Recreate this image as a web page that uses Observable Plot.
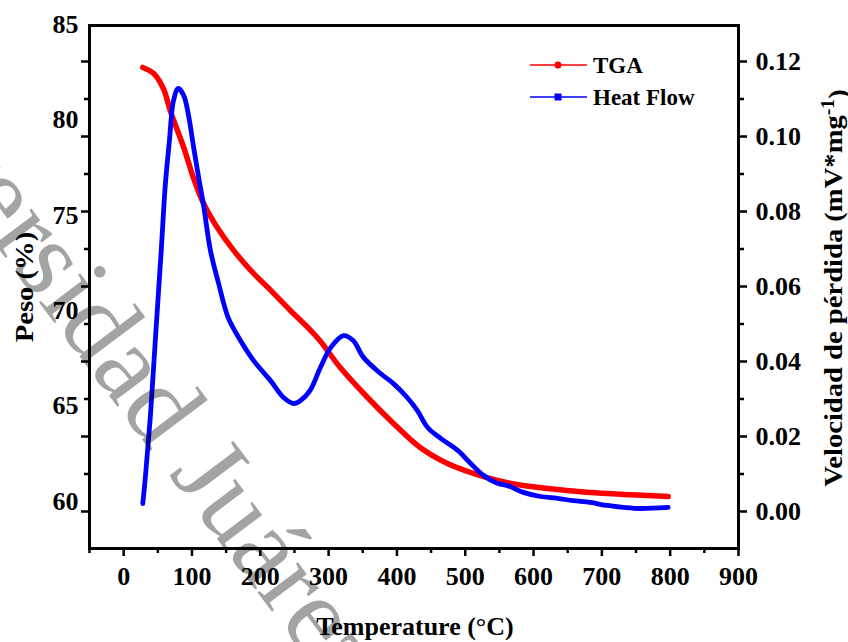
<!DOCTYPE html>
<html>
<head>
<meta charset="utf-8">
<script src="https://cdn.jsdelivr.net/npm/d3@7"></script>
<script src="https://cdn.jsdelivr.net/npm/@observablehq/plot@0.6"></script>
<style>
  html, body { margin: 0; padding: 0; background: #fff; }
  #chart { position: relative; width: 848px; height: 642px; overflow: hidden; }
  #chart svg { position: absolute; left: 0; top: 0; }
</style>
</head>
<body>
<div id="chart"></div>
<script>
// ---- Data ----
const tgaTemp   = [28, 44, 58, 69, 88, 102, 117, 137, 161, 186, 211, 244, 273, 288, 317, 357, 395, 434, 474, 512, 547, 585, 635, 683, 732, 797];
const tgaWeight = [82.75, 82.43, 81.65, 80.40, 78.55, 76.98, 75.62, 74.36, 73.16, 72.11, 71.22, 70.01, 69.00, 68.40, 67.02, 65.45, 64.09, 62.83, 61.99, 61.47, 61.10, 60.84, 60.63, 60.47, 60.37, 60.26];

const hfTemp = [28, 32, 39, 47, 55, 61, 67, 73, 80, 88, 95, 102, 110, 117, 127, 139, 153, 171, 190, 215, 234, 249, 259, 273, 288, 303, 322, 336, 351, 376, 395, 415, 430, 445, 464, 489, 508, 527, 547, 562, 585, 610, 635, 658, 683, 708, 732, 756, 797];
const hfRate = [0.0021, 0.0096, 0.0251, 0.0475, 0.0696, 0.0872, 0.0989, 0.1096, 0.1128, 0.1109, 0.1056, 0.0976, 0.0888, 0.0816, 0.0696, 0.0608, 0.0517, 0.0456, 0.0403, 0.0349, 0.0304, 0.0288, 0.0296, 0.0323, 0.0384, 0.0437, 0.0469, 0.0456, 0.0411, 0.0368, 0.0341, 0.0304, 0.0269, 0.0224, 0.0195, 0.0163, 0.0128, 0.0096, 0.0075, 0.0069, 0.0051, 0.0040, 0.0035, 0.0029, 0.0024, 0.0016, 0.0011, 0.0008, 0.0011];

const xMajorTicks = [0, 100, 200, 300, 400, 500, 600, 700, 800, 900];
const xMinorTicks = [-50, 50, 150, 250, 350, 450, 550, 650, 750, 850];
const pesoTicks   = [60, 65, 70, 75, 80, 85];
const rateMajorTicks = [0, 0.02, 0.04, 0.06, 0.08, 0.10, 0.12];
const rateMinorTicks = [0.01, 0.03, 0.05, 0.07, 0.09, 0.11];

const seriesNames = ["TGA", "Heat Flow"];
const seriesColors = ["#ff0000", "#0000ff"];

const xTitle = "Temperature (°C)";
const yLeftTitle = "Peso (%)";
const yRightTitle = "Velocidad de pérdida (mV*mg";
const watermark = "Universidad Juárez";

// ---- Tables ----
const tga = tgaTemp.map((t, i) => ({T: t, w: tgaWeight[i]}));
const hf = hfTemp.map((t, i) => ({T: t, v: hfRate[i]}));

const FONT = "'Liberation Serif', 'Times New Roman', serif";
const common = {
  width: 848, height: 642,
  marginLeft: 89, marginRight: 110, marginTop: 25, marginBottom: 94,
  style: {fontFamily: FONT, fontSize: "26px", fontWeight: "bold", background: "transparent", overflow: "visible", color: "#000"}
};
const blank = () => "";

const plot1 = Plot.plot({
  ...common,
  x: {domain: [-50, 900]},
  y: {domain: [57.537, 84.948]},
  marks: [
    Plot.axisX({ticks: xMajorTicks, tickSize: 8, tickPadding: 10, strokeWidth: 2.5, tickFormat: d => String(d), label: null}),
    Plot.axisX({ticks: xMinorTicks, tickSize: 5, strokeWidth: 2.5, tickFormat: blank, label: null}),
    Plot.axisY({ticks: pesoTicks, tickSize: 0, tickPadding: 11, tickFormat: d => String(d), label: null}),
    Plot.line(tga, {x: "T", y: "w", stroke: seriesColors[0], strokeWidth: 5.5, curve: "catmull-rom", strokeLinecap: "round"})
  ]
});

const plot2 = Plot.plot({
  ...common,
  x: {domain: [-50, 900], axis: null},
  y: {domain: [-0.009867, 0.1296]},
  marks: [
    Plot.axisY({anchor: "right", ticks: rateMajorTicks, tickSize: 8, tickPadding: 9, strokeWidth: 2.5, tickFormat: d => d.toFixed(2), label: null}),
    Plot.axisY({anchor: "right", ticks: rateMinorTicks, tickSize: 5, strokeWidth: 2.5, tickFormat: blank, label: null}),
    Plot.axisY({anchor: "left", ticks: rateMajorTicks, tickSize: 8, strokeWidth: 2.5, tickFormat: blank, label: null}),
    Plot.axisY({anchor: "left", ticks: rateMinorTicks, tickSize: 5, strokeWidth: 2.5, tickFormat: blank, label: null}),
    Plot.line(hf, {x: "T", y: "v", stroke: seriesColors[1], strokeWidth: 4.8, curve: "catmull-rom", strokeLinecap: "round"}),
    Plot.frame({stroke: "#000", strokeWidth: 3})
  ]
});

const chart = document.getElementById("chart");
chart.appendChild(plot1);
chart.appendChild(plot2);

const svg = d3.select(plot2);

// Axis titles
svg.append("text")
  .attr("x", 415).attr("y", 635)
  .attr("text-anchor", "middle")
  .style("font-family", FONT).style("font-size", "26px").style("font-weight", "bold")
  .text(xTitle);

svg.append("text")
  .attr("transform", "translate(33,287) rotate(-90) scale(1.1,1)")
  .attr("text-anchor", "middle")
  .style("font-family", FONT).style("font-size", "26px").style("font-weight", "bold")
  .text(yLeftTitle);

const rt = svg.append("text")
  .attr("transform", "translate(842,288) rotate(-90) scale(1.1,1)")
  .attr("text-anchor", "middle")
  .style("font-family", FONT).style("font-size", "26px").style("font-weight", "bold");
rt.append("tspan").text(yRightTitle);
rt.append("tspan").attr("dy", "-0.45em").style("font-size", "18px").text("-1");
rt.append("tspan").attr("dy", "0.45em").text(")");

// Legend
const leg = svg.append("g").attr("text-anchor", "start")
  .style("font-family", FONT).style("font-size", "23px").style("font-weight", "bold");
seriesNames.forEach((name, i) => {
  const y = 65 + i * 32;
  leg.append("line").attr("x1", 530).attr("x2", 587).attr("y1", y).attr("y2", y)
    .attr("stroke", seriesColors[i]).attr("stroke-width", 1.5);
  if (i === 0) {
    leg.append("circle").attr("cx", 558).attr("cy", y).attr("r", 3.5).attr("fill", seriesColors[i]);
  } else {
    leg.append("rect").attr("x", 554.5).attr("y", y - 3.5).attr("width", 7).attr("height", 7).attr("fill", seriesColors[i]);
  }
  leg.append("text").attr("x", 593).attr("y", y + 8).text(name);
});

// Watermark
svg.append("text")
  .attr("transform", "translate(112,338) rotate(53)")
  .attr("text-anchor", "middle")
  .attr("dominant-baseline", "central")
  .style("font-family", FONT).style("font-size", "110px").style("font-weight", "normal")
  .attr("fill", "#000").attr("fill-opacity", 0.36)
  .text(watermark);
</script>
</body>
</html>
